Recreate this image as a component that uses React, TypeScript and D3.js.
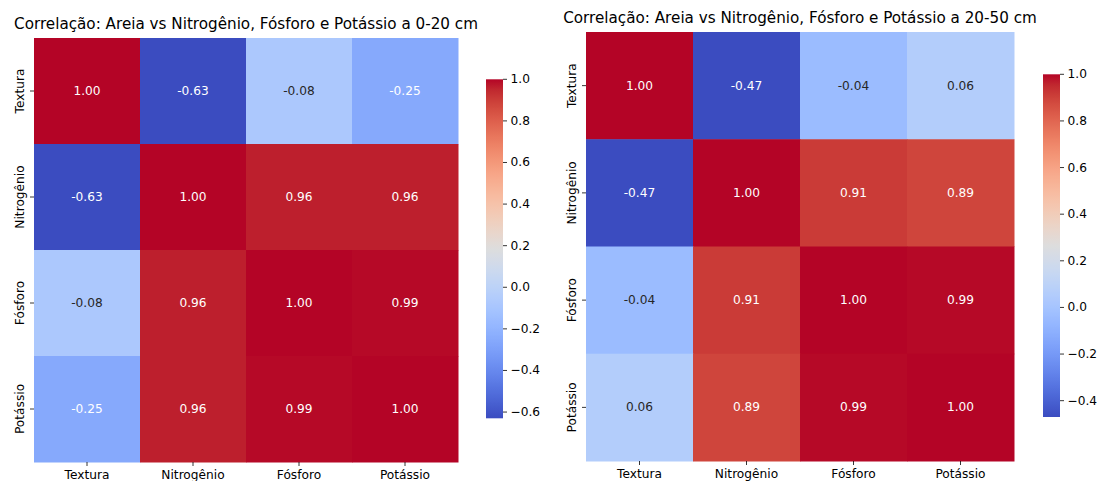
import React from "react";
import * as d3 from "d3";

// Variables in each correlation matrix
const variables = ["Textura", "Nitrogênio", "Fósforo", "Potássio"];

// Correlation matrix, 0-20 cm depth
const corr0to20 = [
  [1.0, -0.63, -0.08, -0.25],
  [-0.63, 1.0, 0.96, 0.96],
  [-0.08, 0.96, 1.0, 0.99],
  [-0.25, 0.96, 0.99, 1.0],
];

// Correlation matrix, 20-50 cm depth
const corr20to50 = [
  [1.0, -0.47, -0.04, 0.06],
  [-0.47, 1.0, 0.91, 0.89],
  [-0.04, 0.91, 1.0, 0.99],
  [0.06, 0.89, 0.99, 1.0],
];

const title0to20 = "Correlação: Areia vs Nitrogênio, Fósforo e Potássio a 0-20 cm";
const title20to50 = "Correlação: Areia vs Nitrogênio, Fósforo e Potássio a 20-50 cm";

const cbTicks0to20 = [-0.6, -0.4, -0.2, 0.0, 0.2, 0.4, 0.6, 0.8, 1.0];
const cbTicks20to50 = [-0.4, -0.2, 0.0, 0.2, 0.4, 0.6, 0.8, 1.0];

// Diverging "coolwarm" colour table (Moreland), 33 evenly spaced stops
const coolwarmStops: [number, number, number][] = [
  [59, 76, 192], [68, 90, 204], [77, 104, 215], [87, 117, 225],
  [98, 130, 234], [108, 142, 241], [119, 154, 247], [130, 165, 251],
  [141, 176, 254], [152, 185, 255], [163, 194, 255], [174, 201, 253],
  [184, 208, 249], [194, 213, 244], [204, 217, 238], [213, 219, 230],
  [221, 221, 221], [229, 216, 209], [236, 211, 197], [241, 204, 184],
  [245, 196, 172], [247, 187, 160], [247, 177, 148], [247, 166, 137],
  [244, 154, 123], [241, 141, 111], [236, 127, 99], [229, 112, 88],
  [222, 96, 77], [213, 80, 66], [203, 62, 56], [192, 40, 47],
  [180, 4, 38],
];

const coolwarmInterp = d3
  .scaleLinear<string>()
  .domain(coolwarmStops.map((_, i) => i / (coolwarmStops.length - 1)))
  .range(coolwarmStops.map(([r, g, b]) => `rgb(${r},${g},${b})`))
  .interpolate(d3.interpolateRgb)
  .clamp(true);

// 256-level lookup like a discretised colormap
function coolwarm(t: number): string {
  const idx = Math.min(255, Math.max(0, Math.floor(t * 256)));
  return coolwarmInterp(idx / 255);
}

function luminance(color: string): number {
  const c = d3.rgb(color);
  const lin = (v: number) => {
    const s = v / 255;
    return s <= 0.03928 ? s / 12.92 : Math.pow((s + 0.055) / 1.055, 2.4);
  };
  return 0.2126 * lin(c.r) + 0.7152 * lin(c.g) + 0.0722 * lin(c.b);
}

const FONT = "'DejaVu Sans', sans-serif";
const TICK_FS = 12.2;
const TITLE_FS = 15.2;
const TICK_LEN = 4;

const fmtTick = (v: number) => d3.format(".1f")(v).replace("-", "\u2212");
const fmtAnnot = (v: number) => v.toFixed(2);

interface PanelProps {
  id: string;
  title: string;
  matrix: number[][];
  cbTicks: number[];
  x0: number;
  x1: number;
  y0: number;
  y1: number;
  cbX: number;
  cbY0: number;
  cbY1: number;
}

function Heatmap(p: PanelProps) {
  const vmin = d3.min(p.matrix.flat()) as number;
  const vmax = d3.max(p.matrix.flat()) as number;
  const norm = d3.scaleLinear().domain([vmin, vmax]).range([0, 1]).clamp(true);

  const xBand = d3.scaleBand<string>().domain(variables).range([p.x0, p.x1]);
  const yBand = d3.scaleBand<string>().domain(variables).range([p.y0, p.y1]);
  const cbScale = d3.scaleLinear().domain([vmin, vmax]).range([p.cbY1, p.cbY0]);
  const cbW = 17;
  const gradId = `grad-${p.id}`;
  const gradStops = d3.range(0, 257).map((i) => i / 256);

  return (
    <g>
      <defs>
        <linearGradient id={gradId} x1="0" y1="1" x2="0" y2="0">
          {gradStops.map((t) => (
            <stop key={t} offset={t} stopColor={coolwarmInterp(t)} />
          ))}
        </linearGradient>
      </defs>
      <text
        x={(p.x0 + p.x1) / 2}
        y={p.y0 - 9.5}
        textAnchor="middle"
        fontFamily={FONT}
        fontSize={TITLE_FS}
        fill="#000"
      >
        {p.title}
      </text>
      {p.matrix.map((row, ri) =>
        row.map((v, ci) => {
          const fill = coolwarm(norm(v));
          const textColor = luminance(fill) > 0.408 ? "#262626" : "#ffffff";
          const cx = (xBand(variables[ci]) as number) + xBand.bandwidth() / 2;
          const cy = (yBand(variables[ri]) as number) + yBand.bandwidth() / 2;
          return (
            <g key={`${ri}-${ci}`}>
              <rect
                x={xBand(variables[ci])}
                y={yBand(variables[ri])}
                width={xBand.bandwidth() + 0.5}
                height={yBand.bandwidth() + 0.5}
                fill={fill}
              />
              <text
                x={cx}
                y={cy}
                textAnchor="middle"
                dominantBaseline="central"
                fontFamily={FONT}
                fontSize={TICK_FS}
                fill={textColor}
              >
                {fmtAnnot(v)}
              </text>
            </g>
          );
        })
      )}
      {/* x axis ticks */}
      {variables.map((name) => {
        const cx = (xBand(name) as number) + xBand.bandwidth() / 2;
        return (
          <g key={`xt-${name}`}>
            <line x1={cx} x2={cx} y1={p.y1} y2={p.y1 + TICK_LEN} stroke="#000" strokeWidth={0.8} />
            <text
              x={cx}
              y={p.y1 + 17}
              textAnchor="middle"
              fontFamily={FONT}
              fontSize={TICK_FS}
              fill="#000"
            >
              {name}
            </text>
          </g>
        );
      })}
      {/* y axis ticks */}
      {variables.map((name) => {
        const cy = (yBand(name) as number) + yBand.bandwidth() / 2;
        const tx = p.x0 - 10;
        return (
          <g key={`yt-${name}`}>
            <line x1={p.x0 - TICK_LEN} x2={p.x0} y1={cy} y2={cy} stroke="#000" strokeWidth={0.8} />
            <text
              transform={`translate(${tx},${cy}) rotate(-90)`}
              textAnchor="middle"
              fontFamily={FONT}
              fontSize={TICK_FS}
              fill="#000"
            >
              {name}
            </text>
          </g>
        );
      })}
      {/* colour bar */}
      <rect x={p.cbX} y={p.cbY0} width={cbW} height={p.cbY1 - p.cbY0} fill={`url(#${gradId})`} />
      {p.cbTicks.map((t) => {
        const y = cbScale(t);
        return (
          <g key={`cb-${t}`}>
            <line x1={p.cbX + cbW} x2={p.cbX + cbW + TICK_LEN} y1={y} y2={y} stroke="#000" strokeWidth={0.8} />
            <text
              x={p.cbX + cbW + 7.5}
              y={y}
              dominantBaseline="central"
              fontFamily={FONT}
              fontSize={TICK_FS}
              fill="#000"
            >
              {fmtTick(t)}
            </text>
          </g>
        );
      })}
    </g>
  );
}

export default function App() {
  return (
    <svg
      width={1101}
      height={481}
      style={{ position: "absolute", left: 0, top: 0, background: "#fff" }}
    >
      <rect width={1101} height={481} fill="#fff" />
      <Heatmap
        id="a"
        title={title0to20}
        matrix={corr0to20}
        cbTicks={cbTicks0to20}
        x0={34}
        x1={458}
        y0={38}
        y1={462}
        cbX={486}
        cbY0={79.3}
        cbY1={418.3}
      />
      <Heatmap
        id="b"
        title={title20to50}
        matrix={corr20to50}
        cbTicks={cbTicks20to50}
        x0={586}
        x1={1014}
        y0={32}
        y1={461}
        cbX={1043}
        cbY0={74.3}
        cbY1={417}
      />
    </svg>
  );
}
